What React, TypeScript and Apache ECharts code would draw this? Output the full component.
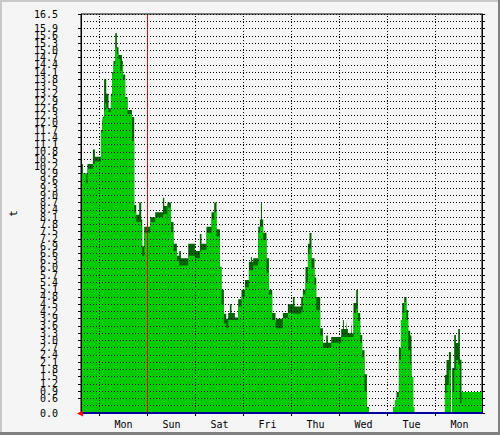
import React, { useEffect, useRef } from "react";
import * as echarts from "echarts";

// time in hours (0 = first day boundary), step values held until next point
const hours = [
  -9.25, -8.3, -6.6, -6.0, -3.3, -2.3, 0.7, 1.35, 1.7, 2.3, 2.8, 3.35, 4.5, 5.7, 6.35, 7.0, 7.85, 8.7,
  9.5, 10.35, 11.2, 11.7, 12.85, 14.0, 16.2, 17.35, 18.35, 19.85, 20.85, 21.35, 22.35, 25.35, 27.85,
  31.7, 32.35, 33.7, 34.0, 35.7, 37.0, 38.7, 39.85, 40.7, 44.35, 47.7, 50.2, 51.0, 53.5, 56.0, 57.35,
  58.5, 60.2, 61.0, 62.2, 63.35, 64.35, 65.2, 66.0, 67.7, 69.35, 71.0, 72.7, 74.7, 75.7, 76.2, 76.85,
  79.35, 80.2, 80.7, 81.2, 81.85, 83.5, 84.7, 86.35, 88.0, 88.35, 91.7, 94.2, 96.7, 97.5, 100.85,
  101.7, 103.0, 104.2, 105.0, 106.0, 107.5, 108.35, 110.35, 111.7, 113.35, 114.2, 115.85, 120.85,
  121.7, 122.2, 123.35, 123.7, 124.2, 125.85, 126.2, 127.0, 128.35, 129.2, 130.35, 131.35, 132.5,
  133.7, 134.7, 146.85, 147.7, 148.5, 149.7, 150.7, 151.35, 152.35, 153.5, 154.35, 155.35, 156.0,
  156.85, 157.35, 172.7, 173.5, 174.7, 175.7, 176.35, 177.35, 178.2, 179.35, 180.2, 181.0, 191.25,
];
const maxVals = [
  10.3, 9.9, 9.9, 10.3, 10.9, 10.6, 11.7, 12.0, 12.25, 13.8, 13.8, 13.2, 12.6, 13.2, 14.1, 14.56, 15.7, 15.13,
  14.8, 14.8, 14.56, 14.0, 13.07, 12.53, 12.24, 8.6, 8.2, 8.7, 8.0, 6.9, 7.7, 8.1, 8.3,
  8.9, 8.56, 8.4, 8.7, 7.9, 7.0, 6.5, 6.7, 6.4, 7.0, 6.7, 7.4, 7.0, 7.7, 8.3, 8.7,
  7.6, 6.05, 5.1, 4.1, 3.9, 4.14, 4.5, 4.14, 3.95, 4.7, 5.1, 5.5, 6.25, 6.45, 6.25, 6.4,
  7.7, 8.0, 8.7, 8.0, 7.45, 6.4, 5.1, 4.14, 3.7, 3.9, 4.14, 4.5, 4.8, 4.4, 4.8,
  5.1, 6.04, 7.0, 7.44, 6.4, 5.6, 4.8, 3.5, 2.9, 3.2, 2.9, 3.14, 3.47,
  3.85, 3.47, 3.85, 3.47, 3.3, 3.85, 3.3, 4.55, 5.09, 4.14, 3.23, 2.6, 1.6,
  0.25, 0, 0.25, 0.54, 0.87, 2.7, 3.85, 4.55, 4.8, 4.26, 3.4, 3.2, 1.49,
  0.25, 0, 1.57, 2.19, 2.52, 0, 1.86, 3.23, 2.89, 3.47, 2.2, 0.87, 0.87,
];
const avgVals = [
  9.9, 9.9, 9.5, 10.1, 10.3, 10.4, 11.6, 11.9, 12.2, 12.5, 12.8, 12.6, 12.45, 13.1, 14.0, 14.43, 15.1, 14.85,
  14.64, 14.14, 14.43, 13.8, 13.0, 12.36, 11.25, 8.3, 7.9, 7.9, 7.7, 6.5, 7.45, 7.9, 8.1,
  8.2, 8.23, 7.5, 8.5, 7.5, 6.7, 6.3, 6.1, 6.1, 6.5, 6.4, 6.7, 6.75, 7.45, 8.0, 8.3,
  7.3, 6.0, 4.5, 3.7, 3.5, 3.85, 3.85, 3.85, 3.85, 4.4, 4.8, 5.2, 5.9, 5.9, 5.9, 6.1,
  7.45, 7.7, 7.7, 7.7, 7.15, 5.8, 4.9, 3.85, 3.56, 3.5, 3.93, 4.14, 4.1, 4.1, 4.2,
  4.9, 5.4, 6.6, 6.8, 6.0, 5.3, 4.26, 3.2, 2.7, 2.7, 2.7, 2.9, 3.14,
  3.14, 3.14, 3.14, 3.14, 3.14, 3.14, 3.14, 4.14, 4.3, 3.8, 2.9, 2.3, 0.9,
  0.2, 0, 0.25, 0.54, 0.66, 2.2, 3.85, 4.14, 4.59, 3.85, 2.6, 2.0, 1.49,
  0.25, 0, 0.83, 1.16, 1.78, 0, 0.87, 1.78, 2.19, 2.0, 0.41, 0.87, 0.87,
];

const dayBoundaries = [0, 24, 48, 72, 96, 120, 144, 168];
const dayLabelHours = [12, 36, 60, 84, 108, 132, 156, 180];
const dayLabels = ["Mon", "Sun", "Sat", "Fri", "Thu", "Wed", "Tue", "Mon"];
const markerHour = 24;
const xMin = -9.25;
const xMax = 191.25;
const yMin = 0;
const yMax = 16.5;
const yStep = 0.3;
const yName = "t";

const FONT = "DejaVu Sans Mono";

export default function App() {
  const ref = useRef<HTMLDivElement>(null);
  useEffect(() => {
    document.body.style.margin = "0";
    if (!ref.current) return;
    const chart = echarts.init(ref.current, null, { renderer: "svg" });
    const maxData = hours.map((h, i) => [h, maxVals[i]]);
    const avgData = hours.map((h, i) => [h, avgVals[i]]);
    chart.setOption({
      animation: false,
      backgroundColor: "#f5f5f5",
      grid: {
        left: 81,
        right: 18,
        top: 14,
        bottom: 22,
        show: true,
        borderColor: "#000",
        borderWidth: 1,
        backgroundColor: "transparent",
      },
      xAxis: {
        type: "value",
        min: xMin,
        max: xMax,
        z: 6,
        axisLine: { show: true, onZero: false, lineStyle: { color: "#0000a0", width: 2 } },
        axisTick: { show: true, customValues: dayBoundaries, length: 3, lineStyle: { color: "#000" } },
        axisLabel: {
          customValues: dayLabelHours,
          margin: 6,
          fontFamily: FONT,
          fontSize: 10,
          color: "#000",
          formatter: (v: number) => {
            const i = dayLabelHours.indexOf(Math.round(v));
            return i >= 0 ? dayLabels[i] : "";
          },
        },
        splitLine: { show: false },
      },
      yAxis: [
        {
          type: "value",
          min: yMin,
          max: yMax,
          interval: yStep,
          z: 6,
          name: yName,
          nameLocation: "middle",
          nameGap: 62,
          nameTextStyle: { fontFamily: FONT, fontSize: 11, color: "#000" },
          axisLine: { show: true, onZero: false, lineStyle: { color: "#000" } },
          axisTick: { show: true, length: 3, lineStyle: { color: "#000" } },
          axisLabel: {
            margin: 23,
            showMinLabel: true,
            showMaxLabel: true,
            fontFamily: FONT,
            fontSize: 10,
            color: "#000",
            formatter: (v: number) => v.toFixed(1),
          },
          splitLine: { show: true, lineStyle: { type: [1, 2], color: "#000", width: 1 } },
        },
        {
          type: "value",
          position: "right",
          min: yMin,
          max: yMax,
          interval: yStep,
          z: 6,
          axisLine: { show: true, onZero: false, lineStyle: { color: "#000" } },
          axisTick: { show: true, length: 3, lineStyle: { color: "#000" } },
          axisLabel: { show: false },
          splitLine: { show: false },
        },
      ],
      series: [
        {
          type: "line",
          step: "end",
          data: maxData,
          symbol: "none",
          lineStyle: { width: 0, opacity: 0 },
          areaStyle: { color: "#006400", opacity: 1 },
          z: 2,
          silent: true,
        },
        {
          type: "line",
          step: "end",
          data: avgData,
          symbol: "none",
          lineStyle: { width: 0, opacity: 0 },
          areaStyle: { color: "#00cc00", opacity: 1 },
          z: 3,
          silent: true,
          markLine: {
            silent: true,
            symbol: ["none", "none"],
            label: { show: false },
            lineStyle: { type: [1, 2], color: "#000", width: 1 },
            data: dayBoundaries.filter((h) => h !== markerHour).map((h) => ({ xAxis: h })),
          },
        },
        {
          type: "line",
          data: avgData.slice(0, 1),
          symbol: "none",
          lineStyle: { width: 0, opacity: 0 },
          z: 8,
          silent: true,
          markLine: {
            silent: true,
            symbol: ["none", "none"],
            label: { show: false },
            lineStyle: { type: "solid", color: "#ff0000", width: 1, opacity: 1 },
            data: [{ xAxis: markerHour }],
          },
        },
      ],
      graphic: [
        { type: "rect", shape: { x: 0, y: 0, width: 500, height: 2 }, style: { fill: "#c8c8c8" }, silent: true },
        { type: "rect", shape: { x: 0, y: 0, width: 2, height: 435 }, style: { fill: "#c8c8c8" }, silent: true },
        { type: "rect", shape: { x: 0, y: 432, width: 500, height: 3 }, style: { fill: "#808080" }, silent: true },
        { type: "rect", shape: { x: 498, y: 0, width: 2, height: 435 }, style: { fill: "#808080" }, silent: true },
        {
          type: "polygon",
          shape: { points: [[77, 413.5], [83, 410.5], [83, 416.5]] },
          style: { fill: "#ff0000" },
          z: 100,
          silent: true,
        },
      ],
    });
    return () => chart.dispose();
  }, []);
  return <div ref={ref} style={{ width: 500, height: 435 }} />;
}
